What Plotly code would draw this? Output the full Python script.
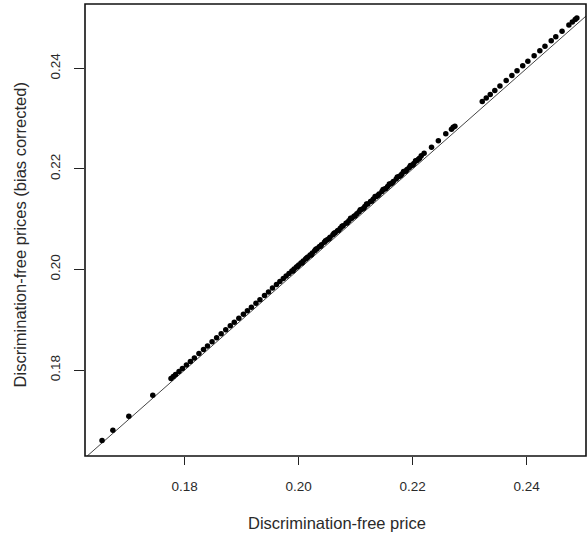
import plotly.graph_objects as go

# Discrimination-free price (x) vs bias-corrected price (y)
price_df = [
    0.1655, 0.1674, 0.1702, 0.1744, 0.1776, 0.1780, 0.1784, 0.1790, 0.1796, 0.1803,
    0.1810, 0.1817, 0.1825, 0.1833, 0.1840, 0.1848, 0.1856, 0.1864, 0.1872, 0.1880,
    0.1887, 0.1895, 0.1903, 0.1910, 0.1917, 0.1925, 0.1932, 0.1940, 0.1947, 0.1954,
    0.1961, 0.1967, 0.1973, 0.1978, 0.1983, 0.1988, 0.1992, 0.1996, 0.2000, 0.2004,
    0.2008, 0.2012, 0.2016, 0.2020, 0.2024, 0.2028, 0.2032, 0.2036, 0.2040, 0.2045,
    0.2050, 0.2055, 0.2060, 0.2064, 0.2068, 0.2073, 0.2078, 0.2083, 0.2088, 0.2093,
    0.2097, 0.2102, 0.2106, 0.2111, 0.2116, 0.2121, 0.2126, 0.2131, 0.2136, 0.2141,
    0.2146, 0.2151, 0.2156, 0.2161, 0.2166, 0.2171, 0.2176, 0.2181, 0.2186, 0.2190,
    0.2194, 0.2198, 0.2202, 0.2207, 0.2212,
    0.1990, 0.1998, 0.2006, 0.2014, 0.2022, 0.2030, 0.2038, 0.2047, 0.2053, 0.2062,
    0.2070, 0.2076, 0.2085, 0.2091, 0.2099, 0.2108, 0.2114, 0.2119, 0.2128, 0.2134,
    0.2139, 0.2148, 0.2153, 0.2159, 0.2164, 0.2173, 0.2179, 0.2184, 0.2188, 0.2196,
    0.2200, 0.2205, 0.2210, 0.2215,
    0.2220, 0.2233, 0.2245, 0.2258, 0.2268, 0.2271, 0.2274,
    0.2322, 0.2329, 0.2336, 0.2344, 0.2353, 0.2364, 0.2374, 0.2383, 0.2393, 0.2402,
    0.2413, 0.2423, 0.2432, 0.2443, 0.2451, 0.2462, 0.2474, 0.2480, 0.2485, 0.2488,
]
price_bc = [
    0.1660, 0.1680, 0.1708, 0.1750, 0.1783, 0.1787, 0.1791, 0.1797, 0.1803, 0.1810,
    0.1817, 0.1824, 0.1833, 0.1841, 0.1848, 0.1856, 0.1864, 0.1872, 0.1880, 0.1888,
    0.1895, 0.1903, 0.1911, 0.1918, 0.1925, 0.1933, 0.1940, 0.1948, 0.1955, 0.1963,
    0.1970, 0.1976, 0.1982, 0.1987, 0.1992, 0.1997, 0.2001, 0.2005, 0.2009, 0.2013,
    0.2017, 0.2021, 0.2025, 0.2029, 0.2033, 0.2037, 0.2041, 0.2045, 0.2049, 0.2054,
    0.2059, 0.2064, 0.2069, 0.2073, 0.2077, 0.2082, 0.2087, 0.2092, 0.2097, 0.2102,
    0.2106, 0.2111, 0.2115, 0.2120, 0.2125, 0.2130, 0.2135, 0.2140, 0.2145, 0.2150,
    0.2155, 0.2160, 0.2165, 0.2170, 0.2175, 0.2180, 0.2185, 0.2190, 0.2195, 0.2199,
    0.2203, 0.2207, 0.2211, 0.2216, 0.2221,
    0.1997, 0.2006, 0.2013, 0.2023, 0.2029, 0.2040, 0.2046, 0.2057, 0.2061, 0.2072,
    0.2078, 0.2086, 0.2093, 0.2102, 0.2107, 0.2119, 0.2122, 0.2130, 0.2136, 0.2145,
    0.2147, 0.2159, 0.2161, 0.2170, 0.2172, 0.2184, 0.2187, 0.2195, 0.2196, 0.2207,
    0.2208, 0.2216, 0.2219, 0.2226,
    0.2231, 0.2243, 0.2256, 0.2270, 0.2279, 0.2283, 0.2285,
    0.2334, 0.2341, 0.2348, 0.2356, 0.2365, 0.2376, 0.2386, 0.2395, 0.2405, 0.2414,
    0.2425, 0.2435, 0.2444, 0.2455, 0.2463, 0.2474, 0.2486, 0.2492, 0.2497, 0.2500,
]

x_range = [0.16251, 0.25040]
y_range = [0.16290, 0.25280]
tick_vals = [0.18, 0.20, 0.22, 0.24]
tick_text = ["0.18", "0.20", "0.22", "0.24"]
x_title = "Discrimination-free price"
y_title = "Discrimination-free prices (bias corrected)"

fig = go.Figure()
fig.add_trace(go.Scatter(
    x=[x_range[0], x_range[1]], y=[x_range[0], x_range[1]],
    mode="lines", line=dict(color="#444444", width=1), hoverinfo="skip",
))
fig.add_trace(go.Scatter(
    x=price_df, y=price_bc, mode="markers",
    marker=dict(color="black", size=5.5),
))

font_txt = dict(family="Liberation Sans, Arial, sans-serif", color="#2a2a2a")
fig.update_layout(
    width=587, height=539,
    margin=dict(l=85, r=1, t=4, b=83),
    paper_bgcolor="white", plot_bgcolor="white",
    showlegend=False,
    font=dict(**font_txt, size=13.5),
    xaxis=dict(range=x_range, tickvals=tick_vals, ticktext=tick_text,
               ticks="outside", ticklen=8, tickwidth=1.3, tickcolor="#222",
               showgrid=False, zeroline=False, showline=False,
               ticklabelstandoff=10),
    yaxis=dict(range=y_range, tickvals=tick_vals, ticktext=tick_text,
               ticks="outside", ticklen=10, tickwidth=1.3, tickcolor="#222",
               tickangle=-90,
               showgrid=False, zeroline=False, showline=False,
               ticklabelstandoff=9),
    shapes=[dict(type="rect", xref="paper", yref="paper", x0=0, y0=0, x1=1, y1=1,
                 line=dict(color="#111", width=1.6))],
    annotations=[
        dict(text=x_title, xref="paper", yref="paper", x=0.503, y=-0.149,
             showarrow=False, font=dict(**font_txt, size=16.5),
             xanchor="center", yanchor="middle"),
        dict(text=y_title, xref="paper", yref="paper", x=-0.13, y=0.49,
             showarrow=False, font=dict(**font_txt, size=16.5), textangle=-90,
             xanchor="center", yanchor="middle"),
    ],
)

fig.write_html("out.html")
